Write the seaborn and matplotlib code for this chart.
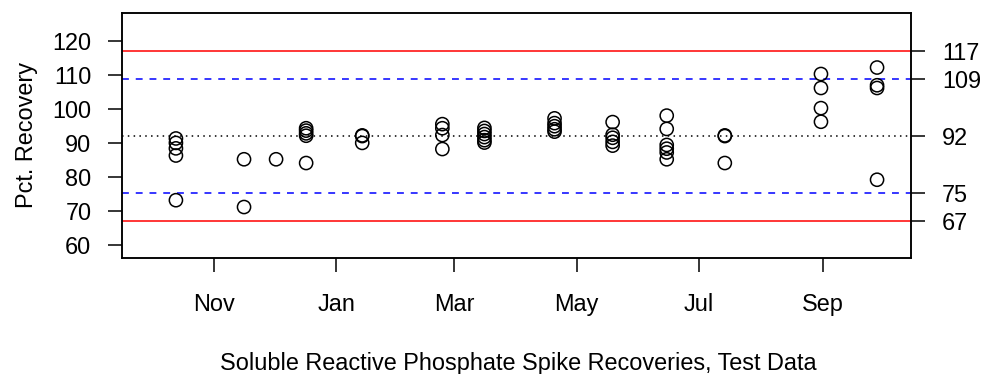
import matplotlib
matplotlib.use("Agg")
import matplotlib.pyplot as plt
import matplotlib.dates as mdates
import seaborn as sns
import pandas as pd

# ---- data ----
sample_dates = ["2010-10-13", "2010-11-16", "2010-12-02", "2010-12-17",
                "2011-01-14", "2011-02-23", "2011-03-16", "2011-04-20",
                "2011-05-19", "2011-06-15", "2011-07-14", "2011-08-31",
                "2011-09-28"]
recoveries = [
    [91.3, 90.0, 88.4, 86.3, 73.2],
    [85.2, 71.2],
    [85.2],
    [94.3, 93.6, 92.8, 92.1, 84.1],
    [92.2, 92.0, 90.0],
    [95.5, 94.3, 92.3, 88.2],
    [94.4, 93.5, 92.6, 91.7, 90.8, 90.1],
    [97.2, 95.8, 94.9, 94.0, 93.3],
    [96.1, 92.4, 91.5, 90.3, 89.2],
    [98.0, 94.1, 89.4, 88.3, 87.2, 85.2],
    [92.2, 92.0, 84.1],
    [110.2, 106.1, 100.2, 96.2],
    [112.1, 106.9, 106.1, 79.2],
]
limit_values = [117.0, 108.7, 92.0, 75.4, 67.1]
limit_labels = ["117", "109", "92", "75", "67"]
month_ticks = ["2010-11-01", "2011-01-01", "2011-03-01",
               "2011-05-01", "2011-07-01", "2011-09-01"]
month_labels = ["Nov", "Jan", "Mar", "May", "Jul", "Sep"]
y_ticks = [60, 70, 80, 90, 100, 110, 120]
y_tick_labels = ["60", "70", "80", "90", "100", "110", "120"]
y_label = "Pct. Recovery"
x_label = "Soluble Reactive Phosphate Spike Recoveries, Test Data"

# ---- build table ----
rows = []
for d, vals in zip(sample_dates, recoveries):
    for v in vals:
        rows.append({"date": mdates.date2num(pd.Timestamp(d)), "pct": v})
df = pd.DataFrame(rows)

sns.set_style("white")
plt.rcParams["font.family"] = ["Liberation Sans", "DejaVu Sans"]

FS = 16.9
LW = 1.1
fig = plt.figure(figsize=(9.85, 3.74), dpi=100)
W, H = 985, 374
left, right, top, bottom = 122, 910.7, 13.3, 257.5
ax = fig.add_axes([left / W, 1 - bottom / H, (right - left) / W, (bottom - top) / H])

line_styles = [
    dict(color="#FF0000", ls="-"),
    dict(color="#0000FF", ls=(0, (4.5, 4.5))),
    dict(color="black", ls=(0, (1, 2.8))),
    dict(color="#0000FF", ls=(0, (4.5, 4.5))),
    dict(color="#FF0000", ls="-"),
]
for val, st in zip(limit_values, line_styles):
    ax.axhline(val, color=st["color"], linestyle=st["ls"], linewidth=LW, zorder=1)

sns.scatterplot(data=df, x="date", y="pct", ax=ax, marker="o",
                fc="none", ec="black", s=90, linewidth=LW, zorder=3)

ax.set_xlim(mdates.date2num(pd.Timestamp("2010-09-16 02:00")),
            mdates.date2num(pd.Timestamp("2011-10-14 19:00")))
ax.set_ylim(56.4, 128.0)

ax.set_xticks([mdates.date2num(pd.Timestamp(m)) for m in month_ticks])
ax.set_xticklabels(month_labels)
ax.set_yticks(y_ticks)
ax.set_yticklabels(y_tick_labels)

ax.tick_params(axis="x", direction="out", length=10.4, width=LW,
               labelsize=FS, pad=15.5, colors="black", bottom=True)
ax.tick_params(axis="y", direction="out", length=10.4, width=LW,
               labelsize=FS, pad=11.7, colors="black", left=True)

for sp in ax.spines.values():
    sp.set_visible(True)
    sp.set_color("black")
    sp.set_linewidth(LW)

ax.set_ylabel(y_label, fontsize=FS, color="black")
ax.yaxis.set_label_coords((38 - left) / (right - left), 0.5)
ax.set_xlabel(x_label, fontsize=FS, color="black")
ax.xaxis.set_label_coords(0.5027, -(352 - bottom) / (bottom - top))

ax2 = ax.twinx()
ax2.set_ylim(ax.get_ylim())
ax2.set_yticks(limit_values)
ax2.set_yticklabels(limit_labels)
ax2.tick_params(axis="y", direction="out", length=10.4, width=LW,
                labelsize=FS, pad=12, colors="black", right=True)
for sp in ax2.spines.values():
    sp.set_visible(True)
    sp.set_color("black")
    sp.set_linewidth(LW)

fig.savefig("out.png", dpi=100)
